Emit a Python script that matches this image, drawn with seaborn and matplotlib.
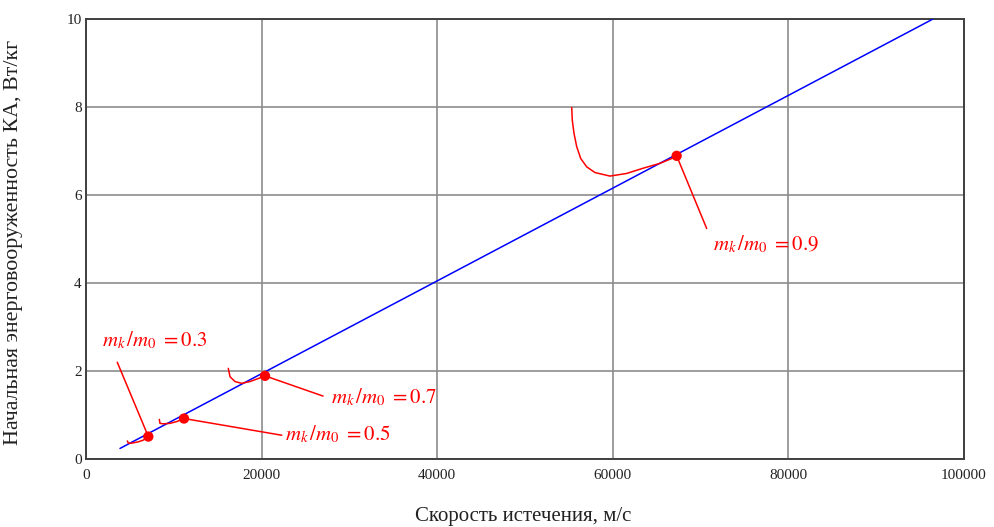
import matplotlib
matplotlib.use("Agg")
import matplotlib.pyplot as plt
import numpy as np
import pandas as pd
import seaborn as sns

# Exhaust velocity (m/s) vs initial specific power (W/kg)
line_v = [3872, 96470]
line_p = [0.24, 10.0]

# Curves for each final-to-initial mass ratio
curve_03_v = [4708, 4822, 5202, 5960, 6530, 7100]
curve_03_p = [0.41, 0.36, 0.36, 0.39, 0.43, 0.51]

curve_05_v = [8350, 8428, 8804, 9567, 10330, 11162]
curve_05_p = [0.90, 0.81, 0.80, 0.81, 0.85, 0.92]

curve_07_v = [16207, 16401, 16970, 17730, 18679, 19624, 20387]
curve_07_p = [2.06, 1.87, 1.76, 1.72, 1.76, 1.83, 1.89]

curve_09_v = [55319, 55387, 55581, 55888, 56344, 57027, 57973, 59681,
              61579, 63477, 65376, 67084, 67274]
curve_09_p = [7.99, 7.70, 7.40, 7.10, 6.83, 6.64, 6.51, 6.43,
              6.49, 6.61, 6.72, 6.86, 6.89]

# Optimal points and their labels
ratios = ["0.3", "0.5", "0.7", "0.9"]
opt_v = [7100, 11162, 20387, 67274]
opt_p = [0.51, 0.92, 1.89, 6.89]

x_ticks = [0, 20000, 40000, 60000, 80000, 100000]
y_ticks = [0, 2, 4, 6, 8, 10]

sns.set_theme(style="white")
plt.rcParams["font.family"] = ["Liberation Serif", "DejaVu Serif"]
plt.rcParams["mathtext.fontset"] = "stix"

fig = plt.figure(figsize=(9.94, 5.27), dpi=100)
ax = fig.add_axes([86 / 994, 1 - 459 / 527, (964 - 86) / 994, (459 - 19) / 527])

line_df = pd.DataFrame({"v": line_v, "p": line_p})
sns.lineplot(data=line_df, x="v", y="p", ax=ax, color="#0000ff", lw=1.1,
             estimator=None, sort=False, zorder=3)

for cv, cp in [(curve_03_v, curve_03_p), (curve_05_v, curve_05_p),
               (curve_07_v, curve_07_p), (curve_09_v, curve_09_p)]:
    df = pd.DataFrame({"v": cv, "p": cp})
    sns.lineplot(data=df, x="v", y="p", ax=ax, color="#ff0000", lw=1.1,
                 estimator=None, sort=False, zorder=4)

pts = pd.DataFrame({"v": opt_v, "p": opt_p})
sns.scatterplot(data=pts, x="v", y="p", ax=ax, color="#ff0000", s=55,
                edgecolor="none", zorder=5)

# label anchor positions (data coords) for each ratio
label_pos = [(1800, 2.70), (22700, 0.55), (27900, 1.40), (71400, 4.88)]
leader_end = [(3560, 2.20), (22300, 0.54), (27000, 1.43), (70690, 5.24)]

for r, v, p, (lx, ly), (ex, ey) in zip(ratios, opt_v, opt_p, label_pos,
                                       leader_end):
    ax.plot([v, ex], [p, ey], color="#ff0000", lw=1.1, zorder=4)
    ax.text(lx, ly, r"$m_k\,/m_0\; = 0.%s$" % r[-1], color="#ff0000",
            fontsize=15, ha="left", va="center")

ax.set_xlim(0, 100000)
ax.set_ylim(0, 10)
ax.set_xticks(x_ticks)
ax.set_yticks(y_ticks)
ax.set_xticklabels([str(t) for t in x_ticks])
ax.set_yticklabels([str(t) for t in y_ticks])
ax.grid(True, color="#8c8c8c", lw=1.2)
ax.set_axisbelow(True)
for s in ax.spines.values():
    s.set_visible(True)
    s.set_color("#404040")
    s.set_linewidth(1.4)
ax.tick_params(axis="both", length=0, labelsize=11, colors="#222222")
ax.tick_params(axis="x", pad=7)
ax.tick_params(axis="y", pad=3)

ax.set_xlabel("Скорость истечения, м/с", fontsize=15, color="#222222")
ax.set_ylabel("Начальная энерговооруженность КА, Вт/кг", fontsize=15.8,
              color="#222222")
ax.xaxis.label.set_va("center")
ax.yaxis.label.set_va("center")
ax.yaxis.label.set_rotation_mode("default")
ax.xaxis.set_label_coords((523 - 86) / 878, (459 - 517) / 440)
ax.yaxis.set_label_coords((14 - 86) / 878, (459 - 242) / 440)

fig.savefig("out.png", dpi=100)
